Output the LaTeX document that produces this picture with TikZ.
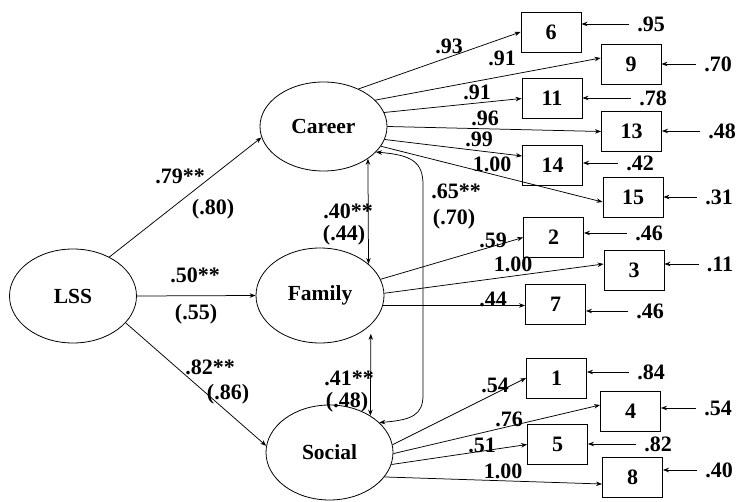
\documentclass[tikz,border=0pt]{standalone}
\usepackage{fontspec}
\setmainfont{Liberation Serif}
\usetikzlibrary{shapes.geometric,arrows.meta}
\begin{document}
\begin{tikzpicture}[x=1pt,y=-1pt,
  lat/.style={ellipse,draw,line width=0.8pt,minimum width=127pt,minimum height=94pt,inner sep=0pt,font=\fontsize{21.5}{24}\selectfont\bfseries},
  obs/.style={rectangle,draw,line width=0.9pt,minimum width=60pt,minimum height=40pt,inner sep=0pt,font=\fontsize{22}{24}\selectfont\bfseries},
  lbl/.style={inner sep=0pt,font=\fontsize{22}{22}\selectfont\bfseries},
  err/.style={inner ysep=0pt,inner xsep=8pt,font=\fontsize{22}{22}\selectfont\bfseries},
  arr/.style={-{Stealth[length=6pt,width=4.5pt]},line width=0.75pt},
  dbl/.style={{Stealth[length=6pt,width=4.5pt]}-{Stealth[length=6pt,width=4.5pt]},line width=0.75pt}]
\useasboundingbox (0,0) rectangle (738,502);
% latent variables
\node[lat] (lss) at (73,296) {LSS};
\node[lat,minimum height=89pt] (career) at (323.5,126.5) {Career};
\node[lat,minimum width=128pt,minimum height=95pt] (family) at (320,295.5) {Family};
\node[lat,minimum height=95pt] (social) at (329.5,452.5) {Social};
% observed
\node[obs] (b6) at (551,32) {6};
\node[obs] (b9) at (631,64) {9};
\node[obs] (b11) at (552,98.5) {11};
\node[obs] (b13) at (631.5,131.5) {13};
\node[obs] (b14) at (552.5,165) {14};
\node[obs] (b15) at (633,197) {15};
\node[obs] (b2) at (553.5,237.5) {2};
\node[obs] (b3) at (634,270) {3};
\node[obs] (b7) at (555.5,304.5) {7};
\node[obs] (b1) at (556.5,378) {1};
\node[obs] (b4) at (630.5,411) {4};
\node[obs] (b5) at (557.5,444.5) {5};
\node[obs] (b8) at (632.5,477) {8};
% error labels
\node[err] (e6) at (651,24) {.95};
\node[err] (e9) at (718,64) {.70};
\node[err] (e11) at (653,98) {.78};
\node[err] (e13) at (722,131) {.48};
\node[err] (e14) at (640,163) {.42};
\node[err] (e15) at (719,197) {.31};
\node[err] (e2) at (649,233) {.46};
\node[err] (e3) at (720,264) {.11};
\node[err] (e7) at (650,311) {.46};
\node[err] (e1) at (651,372) {.84};
\node[err] (e4) at (718,408) {.54};
\node[err] (e5) at (658,444) {.82};
\node[err] (e8) at (719,470) {.40};
\foreach \b in {6,9,11,13,14,15,2,3,7,1,4,5,8}
  \draw[arr] (e\b.west) -- (b\b.east |- e\b.west);
% structural paths
\draw[arr] (lss.47) -- (career.190);
\draw[arr] (lss.0) -- (family.180);
\draw[arr] (lss.-27) -- (social.174);
\node[lbl] (l1) at (180,176) {.79**};
\node[lbl] (l1b) at (213,209) {(.80)};
\node[lbl] (l2) at (195,275) {.50**};
\node[lbl] (l2b) at (196,314) {(.55)};
\node[lbl] (l3) at (210,367) {.82**};
\node[lbl] (l3b) at (228,394) {(.86)};
% covariances
\draw[dbl] (career.-36) -- (family.33);
\draw[dbl,shorten <=9pt] (family.-30) -- (social.42);
\draw[dbl] (career.-26) .. controls (412,155) and (423,162) .. (423,185) -- (423,395) .. controls (423,415) and (412,420) .. (social.31);
\node[lbl] (c1) at (348,211) {.40**};
\node[lbl] (c1b) at (344,235) {(.44)};
\node[lbl] (c2) at (456,191) {.65**};
\node[lbl] (c2b) at (454,219) {(.70)};
\node[lbl] (c3) at (349,378) {.41**};
\node[lbl] (c3b) at (347,402) {(.48)};
% career loadings
\draw[arr] (career.47) -- (b6.west);
\draw[arr] (career.27) -- ([yshift=6pt]b9.west);
\draw[arr] (career.13) -- (b11.west);
\draw[arr] (career.0) -- (b13.west);
\draw[arr] (career.-12) -- ([yshift=9pt]b14.west);
\draw[arr] (career.-19) -- ([yshift=-5pt]b15.west);
\node[lbl] (k6) at (449,46) {.93};
\node[lbl] (k9) at (502,58) {.91};
\node[lbl] (k11) at (477,92) {.91};
\node[lbl] (k13) at (485,118) {.96};
\node[lbl] (k14) at (479,139) {.99};
\node[lbl] (k15) at (492,164) {1.00};
% family loadings
\draw[arr] (family.15) -- (b2.west);
\draw[arr] (family.2) -- ([yshift=6pt]b3.west);
\draw[arr] (family.-9) -- (family.-9 -| b7.west);
\node[lbl] (k2) at (493,240) {.59};
\node[lbl] (k3) at (513,264) {1.00};
\node[lbl] (k7) at (493,299) {.44};
% social loadings
\draw[arr] (social.7) -- (b1.west);
\draw[arr] (social.-1) -- ([yshift=6pt]b4.west);
\draw[arr] (social.-11) -- (b5.west);
\draw[arr] (social.-24) -- ([yshift=-7pt]b8.west);
\node[lbl] (k1) at (495,385) {.54};
\node[lbl] (k4) at (509,419) {.76};
\node[lbl] (k5) at (482,445) {.51};
\node[lbl] (k8) at (503,471) {1.00};
\end{tikzpicture}
\end{document}
